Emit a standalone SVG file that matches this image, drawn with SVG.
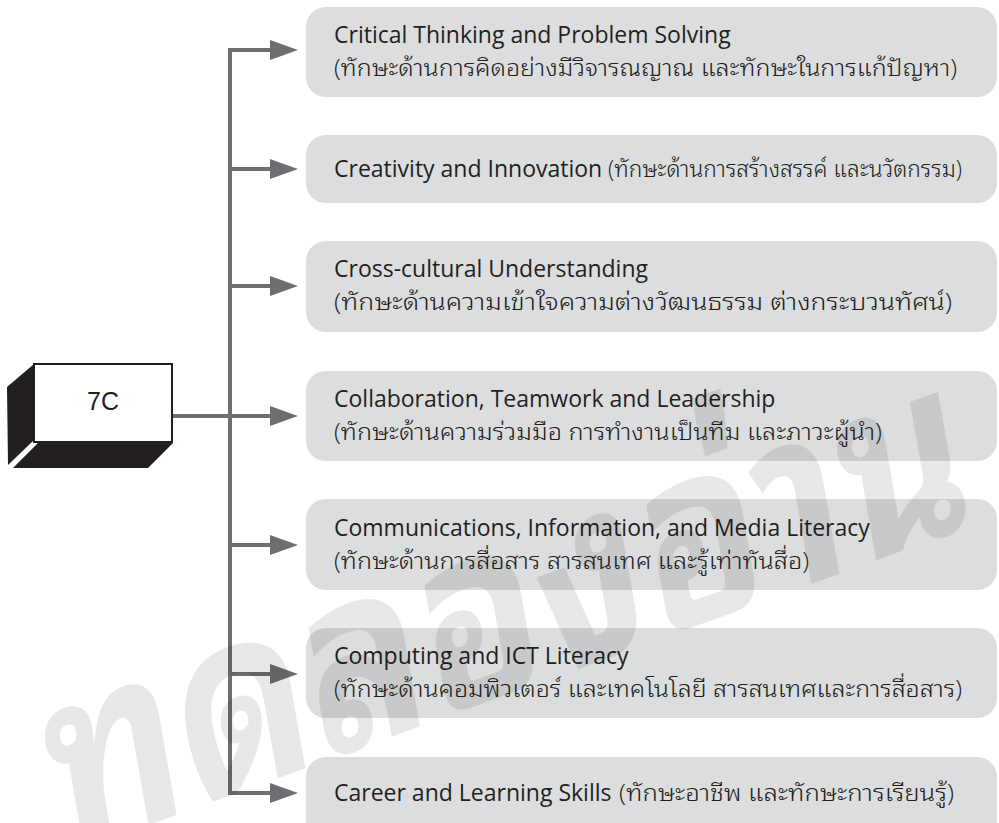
<svg xmlns="http://www.w3.org/2000/svg" width="999" height="823" viewBox="0 0 999 823">
<style>
.box{fill:#dcdddf}
.en{font-family:"Open Sans","Noto Sans",sans-serif;font-size:23px;fill:#231f20}
.th{font-family:"Open Sans","Noto Sans Thai Looped","Noto Sans Thai","Noto Sans",sans-serif;font-size:23px;font-weight:300;fill:#231f20}
.ln{stroke:#6d6e71;stroke-width:4;fill:none}
.ah{fill:#6d6e71}
.wm{font-family:"Noto Sans Thai Looped","Noto Sans Thai","Noto Sans","DejaVu Sans",sans-serif;font-weight:bold;font-size:245px;fill:#000;fill-opacity:0.09}
</style>
<defs>
<polygon id="head" points="0,-10 28,0 0,10"/>
</defs>
<rect width="999" height="823" fill="#fff"/>

<g id="connectors">
<path class="ln" d="M230,50 V793"/>
<path class="ln" d="M228,50 H272 M230,169 H272 M230,286 H272 M172,416 H272 M230,545 H272 M230,674 H272 M228,793 H272"/>
<use href="#head" class="ah" x="270" y="50"/>
<use href="#head" class="ah" x="270" y="169"/>
<use href="#head" class="ah" x="270" y="286"/>
<use href="#head" class="ah" x="270" y="416"/>
<use href="#head" class="ah" x="270" y="545"/>
<use href="#head" class="ah" x="270" y="674"/>
<use href="#head" class="ah" x="270" y="793"/>
</g>

<g id="node-7c">
<polygon points="7,387 34,364 34,440 8,465" fill="#231f20"/>
<polygon points="13,468 38,443 173,443 148,468" fill="#231f20"/>
<rect x="34" y="364" width="138" height="78" fill="#fff" stroke="#231f20" stroke-width="2"/>
<text x="103" y="410" text-anchor="middle" font-family="Liberation Sans, Arial, sans-serif" font-size="25" fill="#231f20">7C</text>
</g>

<g id="node-critical">
<rect class="box" x="306" y="7" width="691" height="90" rx="20"/>
<text class="en" x="334" y="43">Critical Thinking and Problem Solving</text>
<text class="th" x="334" y="76" textLength="623" lengthAdjust="spacingAndGlyphs">(ทักษะด้านการคิดอย่างมีวิจารณญาณ และทักษะในการแก้ปัญหา)</text>
</g>

<g id="node-creativity">
<rect class="box" x="306" y="135" width="691" height="68" rx="20"/>
<text class="en" x="334" y="177">Creativity and Innovation</text>
<text class="th" x="608" y="177" textLength="354" lengthAdjust="spacingAndGlyphs">(ทักษะด้านการสร้างสรรค์ และนวัตกรรม)</text>
</g>

<g id="node-crosscultural">
<rect class="box" x="306" y="241" width="691" height="91" rx="20"/>
<text class="en" x="334" y="277">Cross-cultural Understanding</text>
<text class="th" x="334" y="310" textLength="618" lengthAdjust="spacingAndGlyphs">(ทักษะด้านความเข้าใจความต่างวัฒนธรรม ต่างกระบวนทัศน์)</text>
</g>

<g id="node-collaboration">
<rect class="box" x="306" y="371" width="691" height="90" rx="20"/>
<text class="en" x="334" y="407">Collaboration, Teamwork and Leadership</text>
<text class="th" x="334" y="440" textLength="548" lengthAdjust="spacingAndGlyphs">(ทักษะด้านความร่วมมือ การทำงานเป็นทีม และภาวะผู้นำ)</text>
</g>

<g id="node-communications">
<rect class="box" x="306" y="499" width="691" height="91" rx="20"/>
<text class="en" x="334" y="536">Communications, Information, and Media Literacy</text>
<text class="th" x="334" y="569" textLength="475" lengthAdjust="spacingAndGlyphs">(ทักษะด้านการสื่อสาร สารสนเทศ และรู้เท่าทันสื่อ)</text>
</g>

<g id="node-computing">
<rect class="box" x="306" y="628" width="691" height="90" rx="20"/>
<text class="en" x="334" y="664">Computing and ICT Literacy</text>
<text class="th" x="334" y="697" textLength="628" lengthAdjust="spacingAndGlyphs">(ทักษะด้านคอมพิวเตอร์ และเทคโนโลยี สารสนเทศและการสื่อสาร)</text>
</g>

<g id="node-career">
<rect class="box" x="306" y="757" width="691" height="90" rx="20"/>
<text class="en" x="334" y="801">Career and Learning Skills</text>
<text class="th" x="619" y="801" textLength="335" lengthAdjust="spacingAndGlyphs">(ทักษะอาชีพ และทักษะการเรียนรู้)</text>
</g>

<text class="wm" x="0" y="0" text-anchor="middle" textLength="975" lengthAdjust="spacingAndGlyphs" transform="translate(520,690) rotate(-20) skewX(-10)">ทดลองอ่าน</text>
</svg>
